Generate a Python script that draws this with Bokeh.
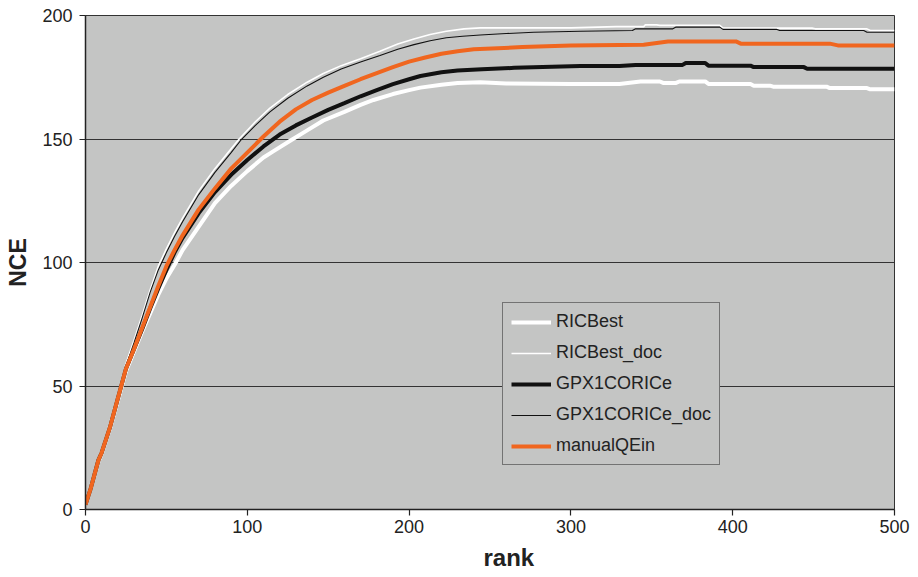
from bokeh.plotting import figure
from bokeh.models import FixedTicker, Legend, LegendItem, Title
from bokeh.embed import file_html
from bokeh.resources import INLINE

# ---- data ----
ricbest_x = [0, 3, 8, 10, 15, 20, 25, 30, 35, 40, 45, 50, 55, 60, 70, 80, 90, 100, 110, 116, 127, 137,
             147, 160, 170, 178, 190, 200, 207, 220, 230, 244, 260, 300, 330, 343, 355, 357, 365, 367,
             383, 385, 411, 413, 423, 425, 458, 460, 483, 485, 500]
ricbest_y = [2, 8, 19.5, 22.5, 32.5, 44, 56, 64, 72, 79.5, 87, 93.5, 99, 105, 114.5, 124, 131, 137,
             142.5, 145, 149.5, 153.5, 157.5, 161, 163.8, 165.8, 168.2, 169.8, 170.8, 172, 172.7, 173,
             172.5, 172.3, 172.3, 173.3, 173.3, 172.7, 172.7, 173.3, 173.3, 172.3, 172.3, 171.6, 171.6,
             171.2, 171.2, 170.6, 170.6, 170.1, 170.1]

ricbest_doc_x = [0, 3, 8, 10, 15, 20, 25, 30, 35, 40, 45, 50, 55, 60, 70, 80, 90, 95, 105, 114, 125, 137,
                 147, 158, 170, 182, 193, 203, 213, 223, 234, 244, 300, 328, 345, 346, 353, 355, 392,
                 394, 449, 451, 483, 485, 500]
ricbest_doc_y = [2, 8, 21, 24.5, 35, 47, 59, 68.5, 78.5, 89, 98.5, 105.5, 112, 118, 129, 138, 146, 150,
                 157, 162.5, 168, 173, 176.5, 179.7, 182.5, 185.5, 188.5, 190.5, 192.3, 193.6, 194.6,
                 195, 195, 195.5, 195.5, 196.2, 196.2, 196, 196, 194.9, 194.9, 194.6, 194.6, 193.9,
                 193.9]

gpx_x = [0, 3, 8, 10, 15, 20, 25, 30, 35, 40, 45, 50, 55, 60, 70, 80, 90, 100, 110, 120, 130, 140, 150,
         160, 170, 180, 190, 200, 207, 220, 230, 245, 265, 306, 330, 340, 369, 371, 383, 385, 411, 413,
         444, 446, 500]
gpx_y = [2, 8, 20, 23, 33, 45, 57, 65, 73, 81.5, 89.5, 97, 104, 110, 120, 128.5, 135.5, 141.5, 147,
         151.8, 155.5, 158.7, 161.8, 164.5, 167.3, 169.8, 172.2, 174.2, 175.5, 177, 177.7, 178.2,
         178.8, 179.6, 179.6, 180, 180, 180.8, 180.8, 179.7, 179.7, 179.1, 179.1, 178.4, 178.4]

gpx_doc_x = [0, 3, 8, 10, 15, 20, 25, 30, 35, 40, 45, 50, 55, 60, 70, 80, 90, 96, 105, 114, 125, 137,
             147, 158, 170, 182, 193, 203, 213, 223, 233, 244, 260, 277, 306, 338, 340, 363, 365, 392,
             394, 427, 429, 481, 483, 500]
gpx_doc_y = [2, 8, 21, 24, 34, 46, 58, 67.5, 77.5, 88, 97, 104, 110.5, 116.5, 127.5, 136.5, 144.5,
             149.5, 155.5, 161, 166.5, 171.5, 175, 178.3, 181.2, 183.8, 186.3, 188.2, 189.8, 191,
             191.6, 192.1, 192.7, 193.2, 193.6, 193.9, 194.6, 194.6, 195.3, 195.3, 194.4, 194.4,
             193.9, 193.9, 193.2, 193.2]

manual_x = [0, 3, 8, 10, 15, 20, 25, 30, 35, 40, 45, 50, 55, 60, 70, 80, 90, 100, 110, 120, 130, 140,
            150, 160, 170, 180, 190, 200, 210, 220, 230, 240, 270, 300, 330, 345, 360, 402, 405, 460,
            465, 500]
manual_y = [2, 8, 20, 23, 33, 45, 57, 65, 73.5, 82, 90.5, 98.5, 105, 111, 121.5, 130, 138, 144.5, 151,
            157, 162, 165.8, 168.8, 171.5, 174.2, 176.7, 179.1, 181.3, 183, 184.5, 185.5, 186.3,
            187.2, 187.9, 188.1, 188.2, 189.5, 189.5, 188.6, 188.6, 187.9, 187.9]

series_names = ["RICBest", "RICBest_doc", "GPX1CORICe", "GPX1CORICe_doc", "manualQEin"]
x_ticks = [0, 100, 200, 300, 400, 500]
y_ticks = [0, 50, 100, 150, 200]
x_title = "rank"
y_title = "NCE"

BG = "#c4c5c4"
ORANGE = "#f0661f"
FONT = "Liberation Sans"

p = figure(width=918, height=577, x_range=(0, 500), y_range=(0, 200),
           output_backend="svg", toolbar_location=None,
           min_border_left=85, min_border_right=24, min_border_top=15, min_border_bottom=68)
p.background_fill_color = BG
p.border_fill_color = "white"
p.outline_line_color = "#333333"
p.outline_line_width = 1

p.xgrid.visible = False
p.ygrid.grid_line_color = "#333333"
p.ygrid.grid_line_width = 1
p.ygrid.ticker = FixedTicker(ticks=y_ticks)

for ax in (p.xaxis[0], p.yaxis[0]):
    ax.axis_line_color = "#222222"
    ax.axis_line_width = 1.5
    ax.major_tick_line_color = "#222222"
    ax.major_tick_line_width = 1.2
    ax.major_tick_out = 6
    ax.major_tick_in = 0
    ax.minor_tick_out = 0
    ax.minor_tick_in = 0
    ax.major_label_text_font = FONT
    ax.major_label_text_font_size = "18px"
    ax.major_label_text_color = "#222222"
    ax.axis_label_text_font = FONT
    ax.axis_label_text_font_style = "bold"
    ax.axis_label_text_color = "#222222"

p.xaxis.ticker = FixedTicker(ticks=x_ticks)
p.yaxis.ticker = FixedTicker(ticks=y_ticks)
p.yaxis.axis_label = y_title
p.yaxis.axis_label_text_font_size = "23px"
p.xaxis.major_label_standoff = 4
p.yaxis.major_label_standoff = 7
p.yaxis.axis_label_standoff = 8

# x-axis title, placed slightly right of centre like the reference
xt = Title(text=x_title, align="left", offset=398, text_font=FONT, text_font_style="bold",
           text_font_size="24px", text_color="#222222", standoff=13)
p.add_layout(xt, "below")

r1 = p.line(ricbest_x, ricbest_y, line_color="white", line_width=4)
r2 = p.line(ricbest_doc_x, ricbest_doc_y, line_color="white", line_width=1.6)
r3 = p.line(gpx_x, gpx_y, line_color="#111111", line_width=4)
r4 = p.line(gpx_doc_x, gpx_doc_y, line_color="#111111", line_width=1.1)
r5 = p.line(manual_x, manual_y, line_color=ORANGE, line_width=4)

legend = Legend(items=[LegendItem(label=n, renderers=[r]) for n, r in
                       zip(series_names, [r1, r2, r3, r4, r5])],
                location=(417, 44))
legend.background_fill_color = BG
legend.background_fill_alpha = 1
legend.border_line_color = "#222222"
legend.border_line_width = 1
legend.label_text_font = FONT
legend.label_text_font_size = "18px"
legend.label_text_color = "#222222"
legend.glyph_width = 40
legend.glyph_height = 20
legend.label_height = 20
legend.label_standoff = 5
legend.spacing = 10
legend.padding = 8
legend.margin = 0
p.add_layout(legend, "center")

open("out.html", "w").write(file_html(p, INLINE))
